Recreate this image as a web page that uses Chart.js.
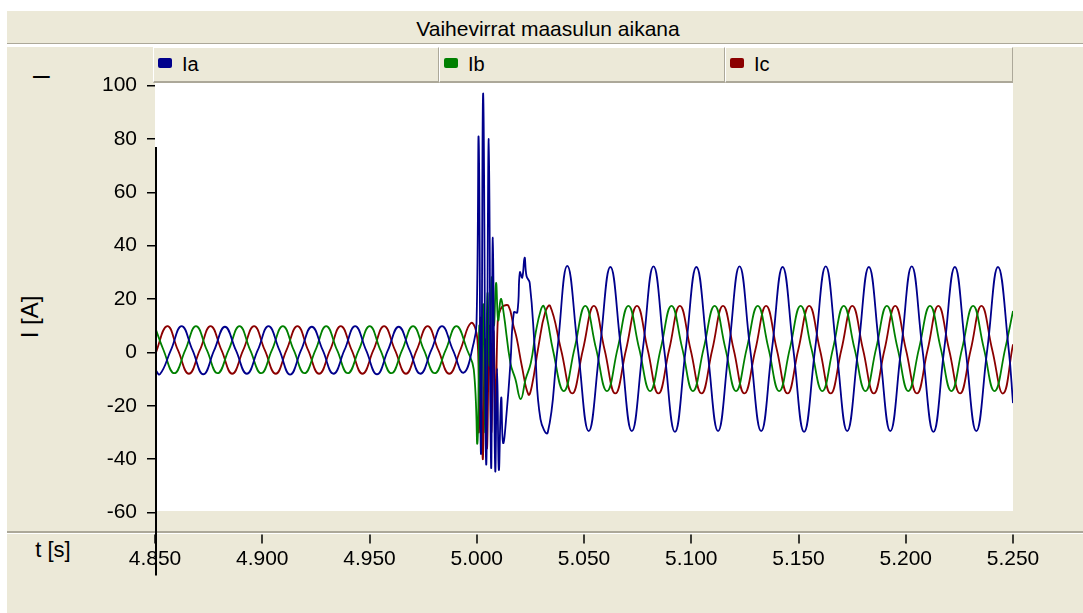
<!DOCTYPE html>
<html lang="fi">
  <head>
    <meta charset="UTF-8" />
    <title>Vaihevirrat maasulun aikana</title>
    <script src="https://cdn.jsdelivr.net/npm/chart.js@4.4.1/dist/chart.umd.min.js"></script>
    <style>
      html, body { margin: 0; padding: 0; background: #fff; }
      #wrap {
        position: relative; width: 1083px; height: 613px; overflow: hidden;
        font-family: "Liberation Sans", Arial, sans-serif; color: #000;
      }
      #wrap div { position: absolute; box-sizing: border-box; }
      #panel { left: 7px; top: 10px; right: 0; bottom: 0; background: #ece9d8; }
      #titlebar {
        left: 7px; top: 10px; right: 0; height: 34px; padding: 3px 0 0 6px;
        border-top: 1px solid #fff; border-bottom: 1px solid #aca899;
        text-align: center; font-size: 21px; line-height: 30px;
      }
      #titlegap { left: 7px; top: 44px; right: 0; height: 3px; background: #fff; }
      .cell {
        top: 47px; height: 36px; width: 286px;
        border-top: 1px solid #fff; border-left: 1px solid #fff;
        border-right: 1px solid #aca899; border-bottom: 2px solid #aca899;
      }
      .swatch { left: 4px; top: 10px; width: 14px; height: 10px; border-radius: 2px; }
      .cell span {
        position: absolute; left: 28px; top: 0; font-size: 20px; line-height: 33px;
      }
      #dash { left: 33px; top: 60px; font-size: 30px; line-height: 30px; }
      #ylabel {
        left: -20px; top: 302px; width: 100px; height: 30px; text-align: center;
        font-size: 24px; line-height: 30px; transform: rotate(-90deg);
      }
      #xlabel { left: 20px; top: 538px; width: 66px; height: 24px; text-align: center; font-size: 22px; line-height: 24px; }
      #sep { left: 7px; top: 531px; right: 0; height: 2px; background: #aca899; }
      #sep2 { left: 7px; top: 533px; right: 0; height: 1px; background: #fff; }
      #chart { position: absolute; left: 0; top: 0; z-index: 2; }
    </style>
  </head>
  <body>
    <div id="wrap">
      <div id="panel"></div>
      <div id="titlebar">Vaihevirrat maasulun aikana</div>
      <div id="titlegap"></div>
      <div class="cell" style="left: 153px">
        <div class="swatch" style="background: #00008c"></div><span>Ia</span>
      </div>
      <div class="cell" style="left: 439px">
        <div class="swatch" style="background: #008000"></div><span>Ib</span>
      </div>
      <div class="cell" style="left: 725px; width: 288px">
        <div class="swatch" style="background: #8b0000"></div><span>Ic</span>
      </div>
      <div id="dash">–</div>
      <div id="ylabel">I [A]</div>
      <div id="xlabel">t [s]</div>
      <div id="sep"></div>
      <div id="sep2"></div>
      <canvas id="chart" width="1083" height="613"></canvas>
    </div>

    <script>
      // akselit
      const timeTicks = [4.85, 4.9, 4.95, 5.0, 5.05, 5.1, 5.15, 5.2, 5.25];
      const currentMin = -60;
      const currentMax = 100;
      const currentStep = 20;
      const cursorTop = 77; // musta pystyviiva alkaa tästä (A)

      // vaihevirrat [t (s), I (A)] kuvasta luettuna
      const ia = [
        [4.8500, -6.3], [4.8523, -8.2], [4.8574, 0.8], [4.8624, 9.8], [4.8675, 0.8], [4.8725, -8.2],
        [4.8776, 0.8], [4.8826, 9.6], [4.8877, 0.8], [4.8928, -8.0], [4.8979, 0.8], [4.9029, 9.8],
        [4.9080, 0.8], [4.9130, -8.3], [4.9181, 0.8], [4.9231, 9.6], [4.9282, 0.8], [4.9332, -8.0],
        [4.9383, 0.8], [4.9433, 9.8], [4.9484, 0.8], [4.9535, -8.2], [4.9586, 0.8], [4.9636, 9.6],
        [4.9687, 0.8], [4.9737, -8.0], [4.9788, 0.8], [4.9838, 9.8], [4.9889, 0.8], [4.9939, -7.6],
        [4.9986, 3.6], [4.9999, 11], [5.0009, 80], [5.0020, -38], [5.0030, 97], [5.0044, -42],
        [5.0056, 80], [5.0067, -43], [5.0075, 43], [5.0086, -44], [5.0095, -6], [5.0103, -44],
        [5.0114, -17], [5.0123, -34], [5.0142, -20], [5.0157, -4], [5.0173, 15], [5.0189, 15],
        [5.0201, 30], [5.0212, 28], [5.0223, 35.5], [5.0232, 28.6], [5.0247, 26], [5.0272, 0],
        [5.0297, -25], [5.0331, -30], [5.0376, 1], [5.0422, 32.4],
        [5.0472, 1], [5.0522, -29.5], [5.0573, 1], [5.0623, 32], [5.0673, 1], [5.0723, -29.5],
        [5.0774, 1], [5.0824, 32.2], [5.0874, 1], [5.0924, -29.8], [5.0974, 1], [5.1024, 32],
        [5.1075, 1], [5.1125, -29.5], [5.1175, 1], [5.1225, 32.2], [5.1275, 1], [5.1326, -29.5],
        [5.1376, 1], [5.1426, 32], [5.1476, 1], [5.1526, -29.8], [5.1577, 1], [5.1627, 32.2],
        [5.1677, 1], [5.1727, -29.5], [5.1778, 1], [5.1828, 32], [5.1878, 1], [5.1928, -29.5],
        [5.1978, 1], [5.2028, 32.2], [5.2078, 1], [5.2129, -29.8], [5.2179, 1], [5.2229, 32],
        [5.2279, 1], [5.2329, -29.5], [5.2380, 1], [5.2430, 32], [5.2480, 1], [5.2500, -19],
      ];

      const ib = [
        [4.8500, 9.5], [4.8540, 0.8], [4.8590, -7.8], [4.8641, 0.8], [4.8691, 9.8], [4.8742, 0.8],
        [4.8792, -7.8], [4.8843, 0.8], [4.8894, 9.8], [4.8944, 0.8], [4.8995, -7.8], [4.9045, 0.8],
        [4.9096, 9.8], [4.9147, 0.8], [4.9197, -7.8], [4.9248, 0.8], [4.9298, 9.8], [4.9349, 0.8],
        [4.9399, -7.8], [4.9450, 0.8], [4.9501, 9.8], [4.9551, 0.8], [4.9602, -7.8], [4.9652, 0.8],
        [4.9703, 9.8], [4.9754, 0.8], [4.9804, -7.8], [4.9855, 0.8], [4.9905, 9.8], [4.9956, 0.8],
        [4.9986, -6.4], [5.0003, -34], [5.0012, 10], [5.0020, -20], [5.0030, 18], [5.0040, -30],
        [5.0050, 22], [5.0060, -5], [5.0070, 28], [5.0080, 10], [5.0090, 26], [5.0100, 12],
        [5.0112, 20], [5.0125, 15], [5.0157, -4], [5.0180, -10], [5.0205, -17.5], [5.0228, -10],
        [5.0252, -4], [5.0275, 7.5], [5.0299, 16], [5.0312, 17.4], [5.0330, 12], [5.0355, 1],
        [5.0406, -14.5],
        [5.0456, 1.5], [5.0506, 17.4], [5.0556, 1.5], [5.0607, -14.5], [5.0657, 1.5], [5.0707, 17.4],
        [5.0757, 1.5], [5.0808, -14.5], [5.0858, 1.5], [5.0908, 17.4], [5.0958, 1.5], [5.1008, -14.5],
        [5.1058, 1.5], [5.1109, 17.4], [5.1159, 1.5], [5.1209, -14.5], [5.1259, 1.5], [5.1310, 17.4],
        [5.1360, 1.5], [5.1410, -14.5], [5.1460, 1.5], [5.1510, 17.4], [5.1560, 1.5], [5.1611, -14.5],
        [5.1661, 1.5], [5.1711, 17.4], [5.1761, 1.5], [5.1812, -14.5], [5.1862, 1.5], [5.1912, 17.4],
        [5.1962, 1.5], [5.2012, -14.5], [5.2062, 1.5], [5.2113, 17.4], [5.2163, 1.5], [5.2213, -14.5],
        [5.2263, 1.5], [5.2314, 17.4], [5.2364, 1.5], [5.2414, -14.5], [5.2464, 1.5], [5.2500, 15.5],
      ];

      const ic = [
        [4.8500, -1], [4.8557, 9.8], [4.8607, 0.8], [4.8658, -8], [4.8709, 0.8], [4.8759, 9.8],
        [4.8810, 0.8], [4.8860, -8], [4.8911, 0.8], [4.8962, 9.8], [4.9012, 0.8], [4.9063, -8],
        [4.9113, 0.8], [4.9164, 9.8], [4.9214, 0.8], [4.9265, -8], [4.9316, 0.8], [4.9366, 9.8],
        [4.9417, 0.8], [4.9467, -8], [4.9518, 0.8], [4.9568, 9.8], [4.9619, 0.8], [4.9670, -8],
        [4.9720, 0.8], [4.9771, 9.8], [4.9821, 0.8], [4.9872, -8], [4.9923, 0.8], [4.9973, 11],
        [5.0003, 5], [5.0010, -30], [5.0018, 13], [5.0028, -40], [5.0038, 5], [5.0048, -36],
        [5.0058, 10], [5.0068, -30], [5.0078, 8], [5.0088, -25], [5.0098, 12], [5.0110, 16],
        [5.0125, 17.4], [5.0148, 17.4], [5.0171, 10], [5.0187, 5], [5.0210, -5], [5.0241, -15.8],
        [5.0257, -12.6], [5.0288, 2.4], [5.0319, 15], [5.0342, 17.4], [5.0393, 1], [5.0445, -15.4],
        [5.0495, 1], [5.0546, 17.4], [5.0596, 1], [5.0646, -15.4], [5.0696, 1], [5.0747, 17.4],
        [5.0797, 1], [5.0847, -15.4], [5.0897, 1], [5.0947, 17.4], [5.0997, 1], [5.1048, -15.4],
        [5.1098, 1], [5.1148, 17.4], [5.1198, 1], [5.1248, -15.4], [5.1299, 1], [5.1349, 17.4],
        [5.1399, 1], [5.1449, -15.4], [5.1499, 1], [5.1550, 17.4], [5.1600, 1], [5.1650, -15.4],
        [5.1700, 1], [5.1751, 17.4], [5.1801, 1], [5.1851, -15.4], [5.1901, 1], [5.1951, 17.4],
        [5.2001, 1], [5.2052, -15.4], [5.2102, 1], [5.2152, 17.4], [5.2202, 1], [5.2253, -15.4],
        [5.2303, 1], [5.2353, 17.4], [5.2403, 1], [5.2454, -15.4], [5.2500, 3],
      ];

      const fontFamily = '"Liberation Sans", Arial, sans-serif';
      const toPoints = (rows) => rows.map(([x, y]) => ({ x, y }));

      // valkoinen piirtoalue, x-akselin merkit ja musta kursoriviiva
      const frame = {
        id: "frame",
        beforeDraw(chart) {
          const { ctx, chartArea: a } = chart;
          ctx.save();
          ctx.fillStyle = "#fff";
          ctx.fillRect(a.left, a.top - 2.5, a.right - a.left, a.bottom - a.top + 1);
          ctx.restore();
        },
        afterDraw(chart) {
          const { ctx, chartArea: a, scales } = chart;
          ctx.save();
          ctx.strokeStyle = "#000";
          ctx.lineWidth = 1.5;
          scales.x.ticks.forEach((t) => {
            const px = Math.round(scales.x.getPixelForValue(t.value));
            ctx.beginPath();
            ctx.moveTo(px, a.bottom + 22);
            ctx.lineTo(px, a.bottom + 31);
            ctx.stroke();
          });
          const cx = scales.x.getPixelForValue(timeTicks[0]) + 1;
          ctx.lineWidth = 2;
          ctx.beginPath();
          ctx.moveTo(cx, scales.y.getPixelForValue(cursorTop));
          ctx.lineTo(cx, a.bottom + 63);
          ctx.stroke();
          ctx.restore();
        },
      };

      const line = (label, rows, color) => ({
        label,
        data: toPoints(rows),
        borderColor: color,
        backgroundColor: color,
        borderWidth: 1.8,
        pointRadius: 0,
        tension: 0.45,
        fill: false,
      });

      new Chart(document.getElementById("chart"), {
        type: "line",
        data: {
          datasets: [
            line("Ia", ia, "#00008c"),
            line("Ib", ib, "#008000"),
            line("Ic", ic, "#8b0000"),
          ],
        },
        plugins: [frame],
        options: {
          responsive: false,
          animation: false,
          layout: { padding: { left: 95, right: 70, top: 85.5, bottom: 40.5 } },
          plugins: {
            legend: { display: false },
            title: { display: false },
            tooltip: { enabled: false },
          },
          scales: {
            x: {
              type: "linear",
              min: timeTicks[0],
              max: timeTicks[timeTicks.length - 1],
              afterBuildTicks: (s) => {
                s.ticks = timeTicks.map((v) => ({ value: v }));
              },
              afterFit: (s) => {
                s.height = 60;
              },
              grid: { display: false, drawTicks: false },
              border: { display: false },
              ticks: {
                padding: 34,
                autoSkip: false,
                maxRotation: 0,
                color: "#000",
                font: { family: fontFamily, size: 21 },
                callback: (v) => Number(v).toFixed(3),
              },
            },
            y: {
              min: currentMin,
              max: currentMax,
              afterFit: (s) => {
                s.width = 60;
              },
              grid: {
                drawOnChartArea: false,
                drawTicks: true,
                tickLength: 8,
                color: "#000",
                lineWidth: 1.5,
              },
              border: { display: false },
              ticks: {
                stepSize: currentStep,
                padding: 10,
                color: "#000",
                font: { family: fontFamily, size: 21 },
              },
            },
          },
        },
      });
    </script>
  </body>
</html>
